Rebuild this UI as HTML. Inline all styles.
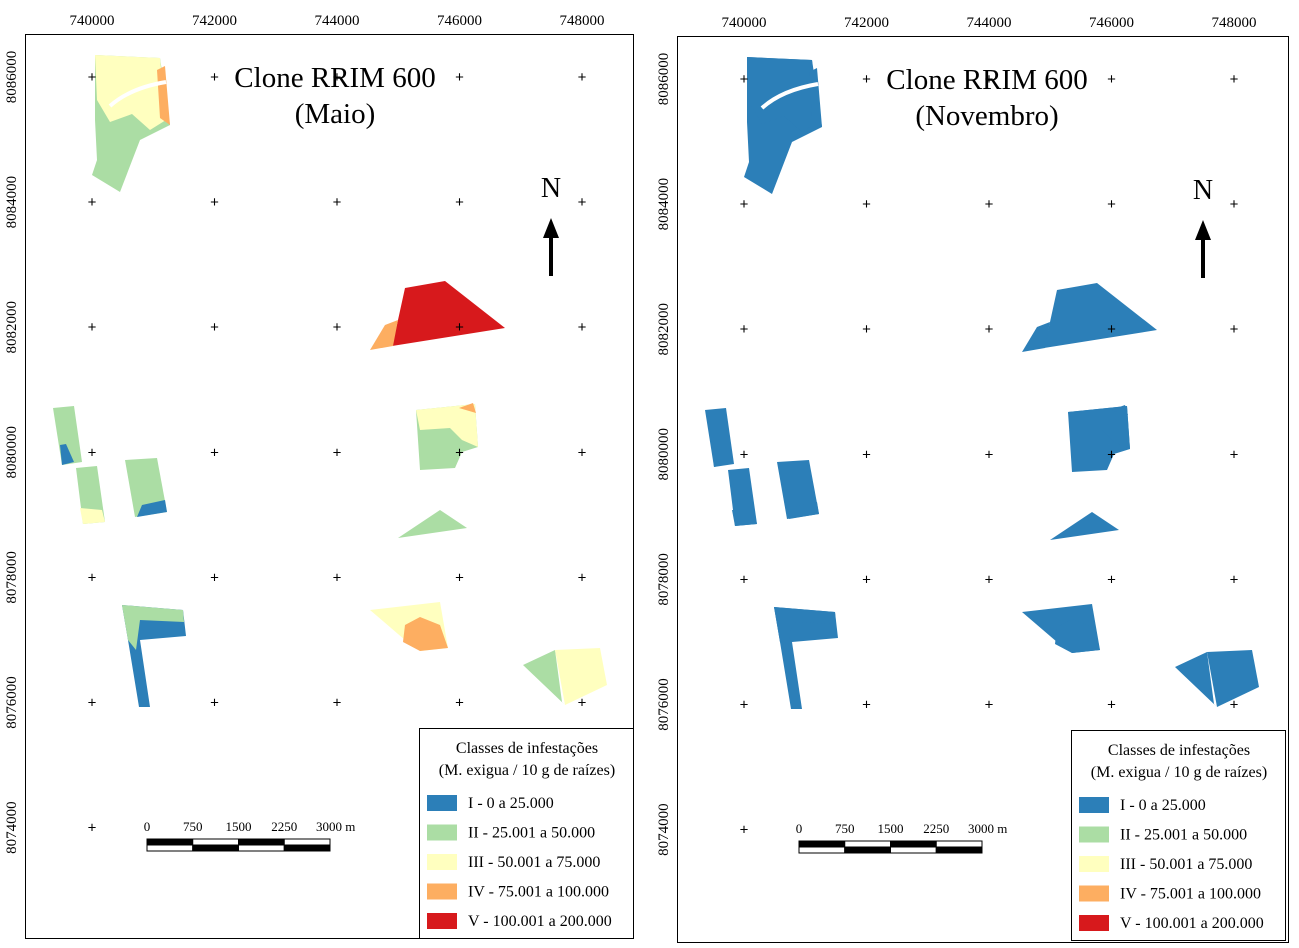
<!DOCTYPE html>
<html><head><meta charset="utf-8"><style>
body{margin:0;background:#fff;}
svg{display:block;font-family:"Liberation Serif",serif;}
</style></head><body>
<svg id="map" width="1299" height="948" viewBox="0 0 1299 948" xmlns="http://www.w3.org/2000/svg">
<rect width="1299" height="948" fill="#fff"/>
<rect x="25.5" y="34.5" width="608" height="904" fill="none" stroke="#000" stroke-width="1"/>
<rect x="677.5" y="36.5" width="611" height="906" fill="none" stroke="#000" stroke-width="1"/>
<g id="left"></g>
<g id="right"></g>
</svg>
<script>
const xTicks=["740000","742000","744000","746000","748000"];
const yTicks=["8086000","8084000","8082000","8080000","8078000","8076000","8074000"];
const classLabels=["I - 0 a 25.000","II - 25.001 a 50.000","III - 50.001 a 75.000","IV - 75.001 a 100.000","V - 100.001 a 200.000"];
const classColors=["#2c7fb8","#abdda4","#ffffbf","#fdae61","#d7191c"];
const scaleLabels=["0","750","1500","2250","3000 m"];
const fieldsMay=[
 [1,[[95,55],[160,58],[170,125],[140,140],[120,192],[92,175],[97,160],[95,120]]],
 [2,[[95,55],[160,58],[166,120],[150,130],[132,114],[110,122],[97,100]]],
 [3,[[157,70],[165,66],[170,125],[160,118]]],
 [4,[[405,288],[445,281],[505,328],[392,346],[398,320]]],
 [3,[[370,350],[385,325],[398,320],[393,346]]],
 [1,[[416,410],[475,404],[478,447],[462,452],[455,468],[420,470]]],
 [2,[[416,410],[475,404],[478,447],[462,440],[450,428],[420,430]]],
 [3,[[459,408],[473,403],[476,413]]],
 [1,[[53,408],[74,406],[82,462],[62,465]]],
 [0,[[60,445],[66,444],[74,462],[62,465]]],
 [1,[[76,468],[97,466],[105,522],[83,524]]],
 [2,[[80,508],[102,510],[105,522],[83,524]]],
 [1,[[125,460],[157,458],[167,512],[135,517]]],
 [0,[[142,505],[165,500],[167,512],[137,517]]],
 [1,[[398,538],[440,510],[467,528]]],
 [2,[[370,610],[440,602],[448,648],[420,651],[405,640]]],
 [3,[[405,625],[420,617],[440,625],[448,648],[420,651],[403,642]]],
 [0,[[122,605],[183,610],[186,636],[140,640],[150,707],[139,707],[128,640]]],
 [1,[[122,605],[183,610],[184,622],[140,620],[136,650],[128,640]]],
 [1,[[523,665],[555,650],[562,702],[565,705]]],
 [2,[[555,650],[600,648],[607,685],[565,705]]]
];
const NS="http://www.w3.org/2000/svg";
function mk(p,t,a){const e=document.createElementNS(NS,t);for(const k in a)e.setAttribute(k,a[k]);p.appendChild(e);return e;}
function draw(g,ox,oy,gx,gy,dx,title,sub,blue){
 const xs=i=>gx+i*122.5, ys=i=>gy+i*125.1;
 xTicks.forEach((t,i)=>{const e=mk(g,'text',{x:xs(i),y:oy+25,'text-anchor':'middle','font-size':15});e.textContent=t;
 
 });
 yTicks.forEach((t,i)=>{const e=mk(g,'text',{x:0,y:0,'text-anchor':'middle','font-size':15,transform:`translate(${ox+16},${ys(i)}) rotate(-90)`});e.textContent=t;
 
 });
 fieldsMay.forEach(([c,pts])=>{
  const e=mk(g,'polygon',{points:pts.map(p=>(p[0]+dx)+','+(p[1]+oy)).join(' '),fill:blue?classColors[0]:classColors[c]});
  
  });
 mk(g,'path',{d:`M${110+dx},${106+oy} Q${130+dx},${88+oy} ${166+dx},${82+oy}`,stroke:'#fff','stroke-width':4,fill:'none'});
 xTicks.forEach((_,i)=>yTicks.forEach((_,j)=>{
  if(j==6&&i>=1&&i<=2)return;
  const e=mk(g,'text',{x:xs(i),y:ys(j)+5,'text-anchor':'middle','font-size':15,'font-family':'Liberation Sans'});e.textContent='+';
 
 }));
 [title,sub].forEach((t,i)=>{const e=mk(g,'text',{x:335+dx,y:oy+87+i*36,'text-anchor':'middle','font-size':29});e.textContent=t;
 
 });
 const n=mk(g,'text',{x:551+dx,y:oy+197,'text-anchor':'middle','font-size':28});n.textContent='N';
 
 
 mk(g,'line',{x1:551+dx,y1:oy+238,x2:551+dx,y2:oy+276,stroke:'#000','stroke-width':4});
 mk(g,'polygon',{points:`${543+dx},${oy+238} ${551+dx},${oy+218} ${559+dx},${oy+238}`,fill:'#000'});
 scaleLabels.forEach((t,i)=>{const e=mk(g,'text',{x:147+dx+i*45.75,y:oy+831,'text-anchor':'middle','font-size':13});if(i==4){e.setAttribute('text-anchor','start');e.setAttribute('x',147+dx+i*45.75-14);}e.textContent=t;
 
 });
 for(let i=0;i<4;i++){mk(g,'rect',{x:147+dx+i*45.75,y:oy+839,width:45.75,height:6,fill:i%2?'#fff':'#000',stroke:'#000','stroke-width':1});
 mk(g,'rect',{x:147+dx+i*45.75,y:oy+845,width:45.75,height:6,fill:i%2?'#000':'#fff',stroke:'#000','stroke-width':1});}
 const lx=419+dx, ly=oy+728;
 mk(g,'rect',{x:lx+.5,y:ly+.5,width:214,height:210,fill:'#fff',stroke:'#000'});
 ['Classes de infestações','(M. exigua / 10 g de raízes)'].forEach((t,i)=>{const e=mk(g,'text',{x:lx+108,y:ly+25+i*22,'text-anchor':'middle','font-size':16});e.textContent=t;
 
 });
 classLabels.forEach((t,i)=>{mk(g,'rect',{x:lx+8,y:ly+67+i*29.5,width:30,height:16,fill:classColors[i]});
 const e=mk(g,'text',{x:lx+49,y:ly+80+i*29.5,'font-size':16});e.textContent=t;
 
 });
}
draw(document.getElementById('left'),0,0,92,77,0,'Clone RRIM 600','(Maio)',false);
draw(document.getElementById('right'),652,2,744,79,652,'Clone RRIM 600','(Novembro)',true);
</script>
</body></html>
